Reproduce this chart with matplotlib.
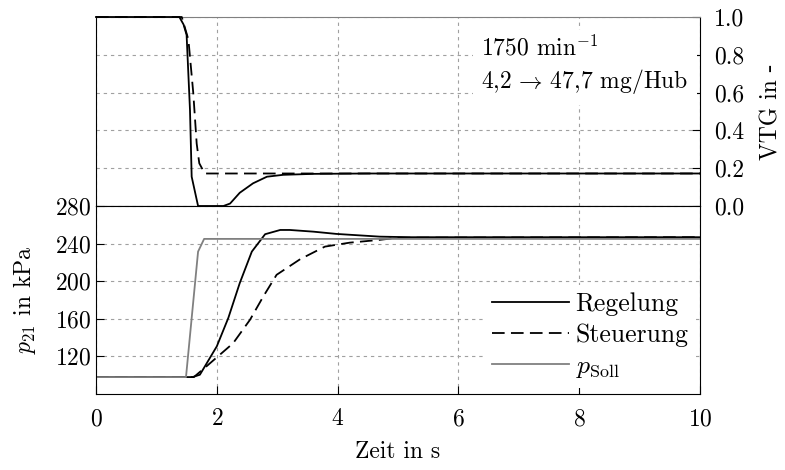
import numpy as np
import matplotlib
matplotlib.use("Agg")
import matplotlib.pyplot as plt

plt.rcParams['font.family'] = 'cmr10'
plt.rcParams['mathtext.fontset'] = 'cm'
plt.rcParams['axes.formatter.use_mathtext'] = True
plt.rcParams['axes.unicode_minus'] = False
plt.rcParams['font.size'] = 17

# VTG position (top panel)
t_vtg_reg = [0, 1.38, 1.45, 1.50, 1.556, 1.584, 1.69, 2.11, 2.22, 2.38, 2.60, 2.83, 3.1, 3.6, 4.5, 10]
vtg_reg = [1.0, 1.0, 0.96, 0.905, 0.508, 0.155, 0.0, 0.0, 0.013, 0.07, 0.12, 0.155, 0.165, 0.17, 0.172, 0.172]
t_vtg_str = [0, 1.42, 1.53, 1.61, 1.667, 1.71, 1.80, 10]
vtg_str = [1.0, 1.0, 0.88, 0.60, 0.33, 0.226, 0.172, 0.172]

# boost pressure p21 (bottom panel)
t_soll = [0, 1.49, 1.69, 1.79, 10]
p_soll = [98, 98, 231.5, 245, 245]
t_p_reg = [0, 1.6, 1.72, 2.0, 2.19, 2.38, 2.58, 2.80, 3.05, 3.21, 3.6, 3.98, 4.7, 5.2, 10]
p_reg = [98, 98, 100.5, 130.7, 160.8, 198, 231.5, 250, 254.5, 254.5, 252.7, 250.3, 247.4, 246.8, 246.8]
t_p_str = [0, 1.62, 1.83, 2.27, 2.55, 2.77, 2.99, 3.38, 3.79, 4.2, 4.7, 5.0, 10]
p_str = [98, 98, 109.5, 134, 159, 183.8, 206.8, 223.4, 236.8, 241, 244, 246.3, 246.8]

grid_kw = dict(color='#a0a0a0', linestyle=(0, (3, 3.5)), linewidth=0.8)
dash = (0, (7, 3.5))

fig = plt.figure(figsize=(7.85, 4.7), dpi=100)
ax1 = fig.add_axes([96 / 785, 1 - 206 / 470, 604 / 785, 189 / 470])
ax2 = fig.add_axes([96 / 785, 1 - 394 / 470, 604 / 785, 188 / 470], sharex=ax1)

# top panel
ax1.plot(t_vtg_reg, vtg_reg, color='black', lw=1.3, clip_on=False, zorder=5)
ax1.plot(t_vtg_str, vtg_str, color='black', lw=1.3, linestyle=dash, clip_on=False, zorder=5)
ax1.set_xlim(0, 10)
ax1.set_ylim(0, 1.0)
ax1.set_yticks([0.0, 0.2, 0.4, 0.6, 0.8, 1.0])
ax1.set_yticklabels(['0.0', '0.2', '0.4', '0.6', '0.8', '1.0'])
ax1.yaxis.tick_right()
ax1.yaxis.set_label_position('right')
ax1.set_ylabel('VTG in -', labelpad=12)
ax1.tick_params(axis='y', direction='in', length=6, pad=10)
ax1.tick_params(axis='x', bottom=False, labelbottom=False)
ax1.set_xticks([0, 2, 4, 6, 8, 10])
ax1.grid(True, **grid_kw)
ax1.spines['top'].set_color('#808080')
ax1.text(6.38, 0.905, '1750 min$^{\\mathrm{-1}}$\n4,2$\\,\\rightarrow\\,$47,7 mg/Hub',
         fontsize=17, va='top', ha='left', linespacing=1.35, zorder=3,
         bbox=dict(facecolor='white', edgecolor='none', pad=6))

# bottom panel
ax2.plot(t_p_reg, p_reg, color='black', lw=1.3, label='Regelung')
ax2.plot(t_p_str, p_str, color='black', lw=1.3, linestyle=dash, label='Steuerung')
ax2.plot(t_soll, p_soll, color='#808080', lw=1.3, label='$p_{\\mathrm{Soll}}$')
ax2.set_ylim(80, 280)
ax2.set_yticks([120, 160, 200, 240, 280])
ax2.set_xticks([0, 2, 4, 6, 8, 10])
ax2.tick_params(direction='in', length=6)
ax2.tick_params(axis='x', pad=10)
ax2.grid(True, **grid_kw)
ax2.set_xlabel('Zeit in s', labelpad=8)
ax2.set_ylabel('$p_{21}$ in kPa', labelpad=12)
leg = ax2.legend(loc='lower right', bbox_to_anchor=(1.015, -0.035), frameon=True,
                 fancybox=False, edgecolor='none', facecolor='white', framealpha=1,
                 handlelength=3.0, handletextpad=0.25, labelspacing=0.28,
                 borderpad=0.3, fontsize=18.5)

plt.savefig('out.png', dpi=100)
